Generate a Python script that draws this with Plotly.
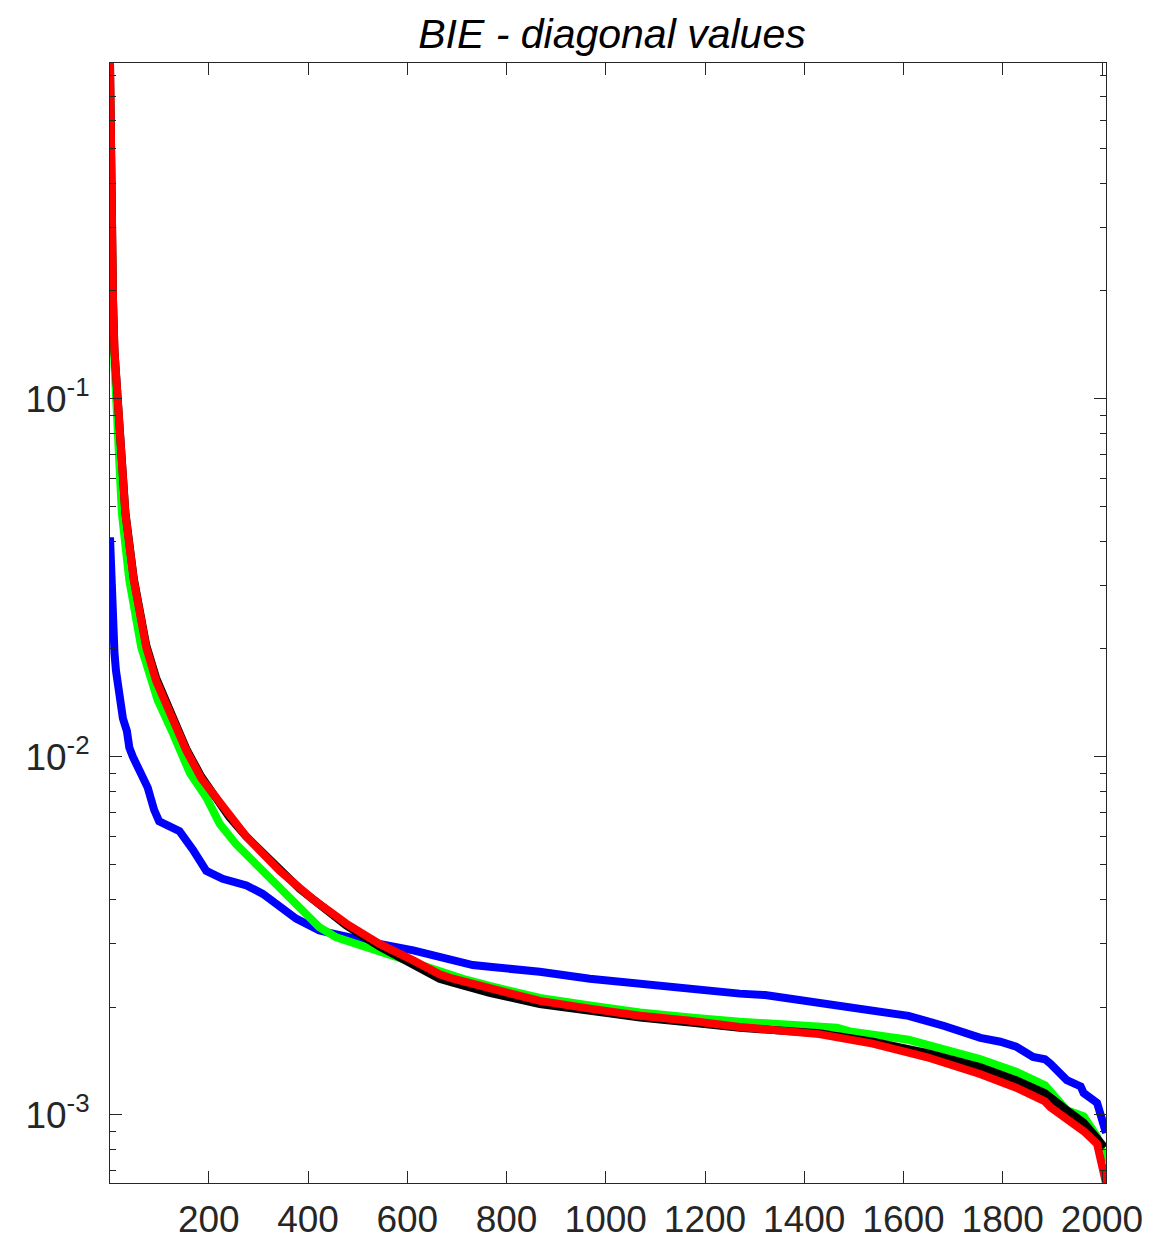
import math
import plotly.graph_objects as go

# Sorted diagonal entries of the BIE matrices, sampled along the row index
title_text = "BIE - diagonal values"

idx_blue = [1, 3, 6, 10, 13, 17, 23, 27, 35, 40, 47, 60, 67, 77, 90, 100, 120, 141,
            168, 195, 228, 276, 309, 343, 376, 423, 477, 544, 612, 665, 732, 766,
            867, 968, 1069, 1170, 1270, 1321, 1466, 1610, 1682, 1755, 1795, 1827,
            1861, 1885, 1896, 1914, 1929, 1957, 1963, 1990, 2008]
diag_blue = [0.041, 0.0305, 0.0228, 0.0195, 0.0174, 0.0158, 0.0132, 0.0128, 0.0118,
             0.0106, 0.0100, 0.0092, 0.0090, 0.0082, 0.0071, 0.0066, 0.0064, 0.0062,
             0.0055, 0.0048, 0.00456, 0.00437, 0.00414, 0.0038, 0.00353, 0.00327,
             0.00313, 0.0030, 0.00288, 0.00275, 0.00262, 0.00259, 0.00251, 0.0024,
             0.00232, 0.00227, 0.00218, 0.00216, 0.00202, 0.00189, 0.00177, 0.00164,
             0.0016, 0.00155, 0.00145, 0.00143, 0.00139, 0.00132, 0.00125, 0.0012,
             0.00115, 0.00108, 0.00089]

idx_green = [1, 2, 4, 7, 10, 15, 25, 40, 47, 64, 97, 111, 128, 162, 195, 222, 255,
             296, 343, 390, 423, 457, 497, 544, 585, 720, 766, 867, 968, 1069, 1170,
             1270, 1466, 1492, 1610, 1682, 1754, 1827, 1885, 1929, 1963, 1990, 2008]
diag_green = [0.75, 0.40, 0.25, 0.165, 0.125, 0.088, 0.0477, 0.0311, 0.0274, 0.0202,
              0.0144, 0.0132, 0.0116, 0.0090, 0.0077, 0.0065, 0.0057, 0.0050, 0.0043,
              0.0037, 0.00334, 0.00313, 0.0030, 0.00285, 0.00272, 0.00238, 0.00229,
              0.00212, 0.00202, 0.00193, 0.00187, 0.00182, 0.00175, 0.00171, 0.00162,
              0.00153, 0.00143, 0.00132, 0.00121, 0.00103, 0.00099, 0.00087, 0.00074]

idx_black = [1, 2, 4, 7, 10, 14, 21, 32, 49, 74, 94, 121, 155, 185, 208, 241, 275,
             343, 383, 410, 477, 544, 612, 665, 692, 766, 867, 968, 1069, 1170, 1270,
             1430, 1538, 1646, 1700, 1754, 1827, 1885, 1929, 1963, 1990, 2005]
diag_black = [0.866, 0.52, 0.31, 0.19, 0.136, 0.113, 0.074, 0.0482, 0.0314, 0.0205,
              0.0166, 0.0134, 0.0105, 0.0088, 0.0079, 0.0068, 0.0060, 0.0048, 0.00428,
              0.0040, 0.00338, 0.00295, 0.00263, 0.0024, 0.00234, 0.00219, 0.00204,
              0.00195, 0.00187, 0.00181, 0.00175, 0.00169, 0.0016, 0.00149, 0.00143,
              0.00136, 0.00125, 0.00115, 0.00103, 0.00095, 0.00086, 0.00081]

idx_red = [1, 2, 4, 7, 10, 14, 21, 32, 49, 74, 94, 121, 155, 185, 208, 241, 275, 343,
           383, 410, 477, 544, 612, 665, 692, 766, 867, 968, 1069, 1170, 1270, 1430,
           1538, 1646, 1700, 1754, 1827, 1885, 1896, 1929, 1963, 1990, 2000, 2008]
diag_red = [0.866, 0.52, 0.31, 0.19, 0.136, 0.112, 0.073, 0.0477, 0.0311, 0.0202,
            0.0163, 0.0132, 0.0104, 0.0087, 0.0079, 0.0068, 0.0060, 0.0048, 0.0043,
            0.0040, 0.00342, 0.0030, 0.0027, 0.00247, 0.0024, 0.00225, 0.00208,
            0.00198, 0.00189, 0.00183, 0.00176, 0.00168, 0.00158, 0.00145, 0.00138,
            0.0013, 0.00119, 0.00109, 0.00105, 0.00098, 0.0009, 0.00083, 0.00074,
            0.000645]

x_ticks = [200, 400, 600, 800, 1000, 1200, 1400, 1600, 1800, 2000]
y_ticks = [1e-3, 1e-2, 1e-1]
y_ticktext = ["10<sup>-3</sup>", "10<sup>-2</sup>", "10<sup>-1</sup>"]

AXIS = "#262626"
FONT = "Liberation Sans, Arial, Helvetica, sans-serif"
LW = 8

fig = go.Figure()
series = [
    (idx_blue, diag_blue, "#0000ff"),
    (idx_green, diag_green, "#00ff00"),
    (idx_black, diag_black, "#000000"),
    (idx_red, diag_red, "#ff0000"),
]
for xs, ys, color in series:
    fig.add_trace(go.Scatter(x=xs, y=ys, mode="lines",
                             line=dict(color=color, width=LW),
                             showlegend=False, hoverinfo="skip"))

y_lo = min(diag_red)
y_hi = max(diag_red)
minor_vals = [m * 10.0 ** e for e in (-4, -3, -2, -1) for m in range(2, 10)]

fig.update_layout(
    width=1176, height=1239,
    margin=dict(l=110, r=70, t=63, b=56, autoexpand=False),
    paper_bgcolor="white", plot_bgcolor="white",
    title=dict(text=title_text, x=0.504, xref="paper", xanchor="center",
               y=1 - 34 / 1239, yref="container", yanchor="middle",
               font=dict(family=FONT, size=41, color="black", style="italic")),
)
fig.update_xaxes(
    range=[1, 2008], tickmode="array", tickvals=x_ticks, automargin=False,
    ticks="inside", ticklen=12, tickwidth=1, tickcolor=AXIS,
    showline=True, linecolor=AXIS, linewidth=1, mirror="ticks",
    showgrid=False, zeroline=False, ticklabelstandoff=4,
    tickfont=dict(family=FONT, size=37, color=AXIS),
)
fig.update_yaxes(
    type="log", range=[math.log10(y_lo), math.log10(y_hi)], automargin=False,
    tickmode="array", tickvals=y_ticks, ticktext=y_ticktext,
    ticks="inside", ticklen=12, tickwidth=1, tickcolor=AXIS,
    showline=True, linecolor=AXIS, linewidth=1, mirror="ticks",
    showgrid=False, zeroline=False, ticklabelstandoff=12,
    tickfont=dict(family=FONT, size=37, color=AXIS),
    minor=dict(tickmode="array", tickvals=minor_vals, ticks="inside",
               ticklen=6, tickwidth=1, tickcolor=AXIS, showgrid=False),
)

fig.write_html("out.html")
